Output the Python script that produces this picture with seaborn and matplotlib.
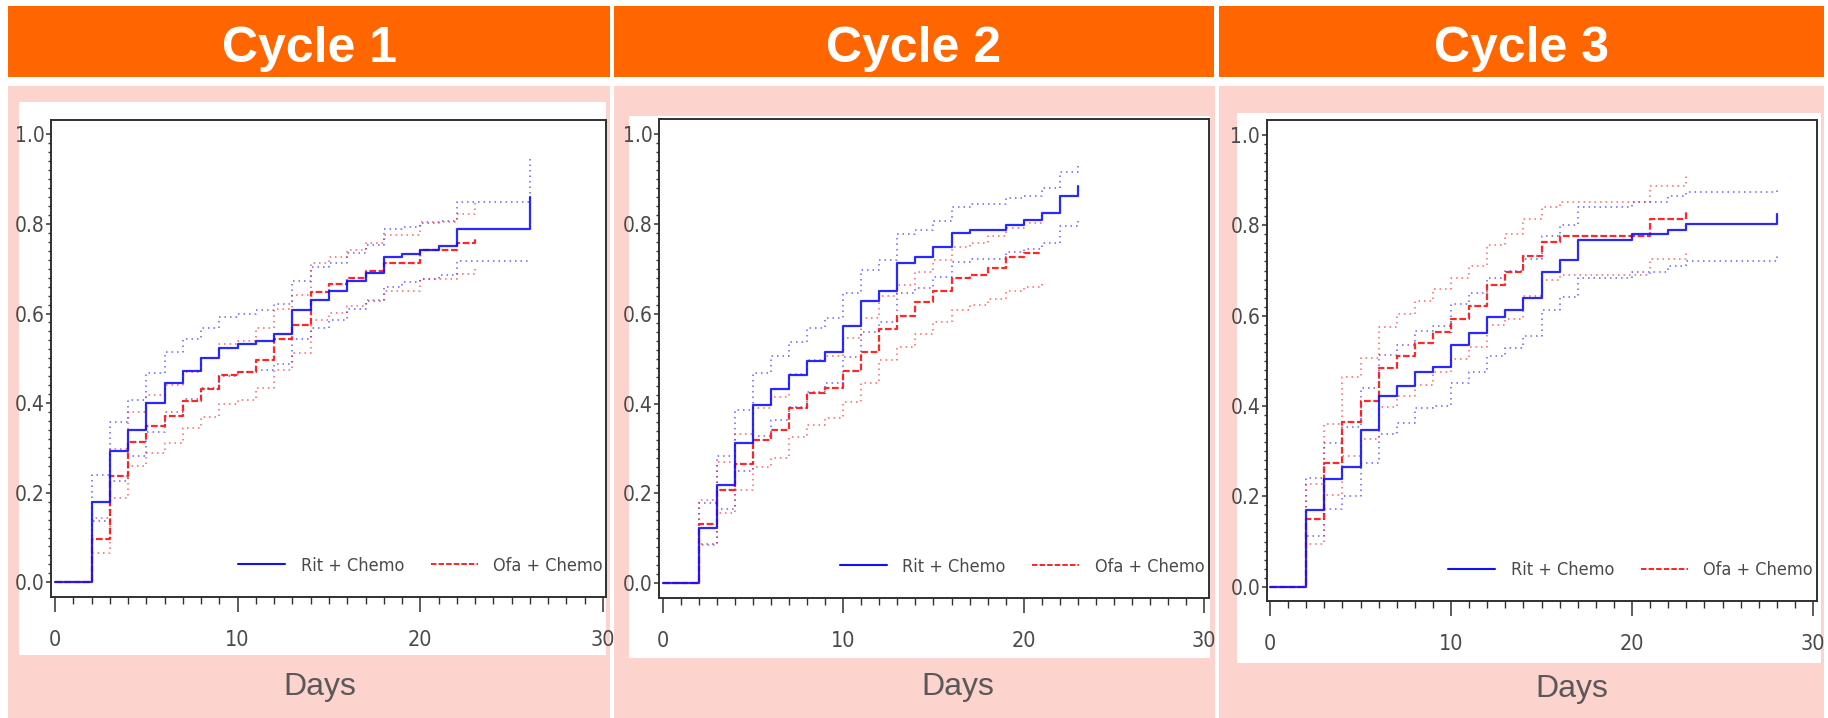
import numpy as np
import matplotlib
matplotlib.use("Agg")
import matplotlib.pyplot as plt
import seaborn as sns
from matplotlib.patches import Rectangle
from matplotlib.lines import Line2D
from matplotlib.ticker import FixedLocator, FormatStrFormatter
from matplotlib import font_manager as fm

# ---------------- data ----------------
cycle_titles = ["Cycle 1", "Cycle 2", "Cycle 3"]
series_labels = ["Rit + Chemo", "Ofa + Chemo"]
x_label = "Days"
x_ticks = [0, 10, 20, 30]
y_ticks = [0.0, 0.2, 0.4, 0.6, 0.8, 1.0]

# Cycle 1
c1_rit_days = [0, 2, 3, 4, 5, 6, 7, 8, 9, 10, 11, 12, 13, 14, 15, 16, 17, 18, 19, 20, 21, 22, 26]
c1_rit_est = [0, 0.179, 0.294, 0.340, 0.400, 0.445, 0.471, 0.500, 0.522, 0.533, 0.538, 0.555, 0.608,
              0.631, 0.650, 0.672, 0.691, 0.727, 0.733, 0.742, 0.751, 0.788, 0.860]
c1_rit_lo = [0, 0.137, 0.227, 0.282, 0.336, 0.381, 0.409, 0.434, 0.460, 0.470, 0.474, 0.488, 0.542,
             0.568, 0.585, 0.609, 0.629, 0.660, 0.670, 0.677, 0.686, 0.718, 0.718]
c1_rit_hi = [0, 0.240, 0.358, 0.407, 0.468, 0.513, 0.542, 0.568, 0.593, 0.600, 0.608, 0.622, 0.673,
             0.703, 0.712, 0.735, 0.753, 0.788, 0.793, 0.801, 0.806, 0.849, 0.944]
c1_ofa_days = [0, 2, 3, 4, 5, 6, 7, 8, 9, 10, 11, 12, 13, 14, 15, 16, 17, 18, 19, 20, 21, 22, 23]
c1_ofa_est = [0, 0.096, 0.237, 0.314, 0.350, 0.372, 0.404, 0.432, 0.463, 0.470, 0.497, 0.542, 0.574,
              0.647, 0.666, 0.680, 0.695, 0.713, 0.713, 0.742, 0.742, 0.757, 0.766]
c1_ofa_lo = [0, 0.065, 0.188, 0.260, 0.289, 0.312, 0.344, 0.368, 0.398, 0.407, 0.433, 0.474, 0.511,
             0.585, 0.602, 0.617, 0.630, 0.651, 0.651, 0.677, 0.677, 0.689, 0.700]
c1_ofa_hi = [0, 0.143, 0.297, 0.381, 0.418, 0.440, 0.470, 0.500, 0.531, 0.539, 0.568, 0.610, 0.642,
             0.712, 0.727, 0.742, 0.757, 0.775, 0.775, 0.805, 0.805, 0.821, 0.846]

# Cycle 2
c2_rit_days = [0, 2, 3, 4, 5, 6, 7, 8, 9, 10, 11, 12, 13, 14, 15, 16, 17, 18, 19, 20, 21, 22, 23]
c2_rit_est = [0, 0.124, 0.220, 0.312, 0.398, 0.433, 0.463, 0.494, 0.516, 0.572, 0.629, 0.651, 0.713,
              0.726, 0.748, 0.780, 0.786, 0.786, 0.798, 0.809, 0.824, 0.863, 0.884]
c2_rit_lo = [0, 0.087, 0.166, 0.251, 0.328, 0.363, 0.393, 0.427, 0.446, 0.505, 0.559, 0.582, 0.646,
             0.657, 0.683, 0.715, 0.722, 0.722, 0.737, 0.744, 0.759, 0.796, 0.813]
c2_rit_hi = [0, 0.179, 0.284, 0.385, 0.468, 0.507, 0.537, 0.568, 0.590, 0.646, 0.697, 0.719, 0.777,
             0.787, 0.808, 0.838, 0.844, 0.844, 0.858, 0.863, 0.880, 0.915, 0.930]
c2_ofa_days = [0, 2, 3, 4, 5, 6, 7, 8, 9, 10, 11, 12, 13, 14, 15, 16, 17, 18, 19, 20, 21]
c2_ofa_est = [0, 0.131, 0.207, 0.266, 0.319, 0.341, 0.391, 0.424, 0.434, 0.472, 0.516, 0.566, 0.596,
              0.626, 0.651, 0.680, 0.687, 0.703, 0.726, 0.735, 0.735]
c2_ofa_lo = [0, 0.085, 0.157, 0.208, 0.258, 0.280, 0.326, 0.352, 0.368, 0.403, 0.446, 0.498, 0.527,
             0.555, 0.582, 0.609, 0.620, 0.633, 0.651, 0.661, 0.674]
c2_ofa_hi = [0, 0.186, 0.271, 0.332, 0.391, 0.414, 0.466, 0.498, 0.507, 0.546, 0.590, 0.639, 0.665,
             0.693, 0.719, 0.748, 0.757, 0.774, 0.791, 0.803, 0.803]

# Cycle 3
c3_rit_days = [0, 2, 3, 4, 5, 6, 7, 8, 9, 10, 11, 12, 13, 14, 15, 16, 17, 18, 19, 20, 21, 22, 23, 28]
c3_rit_est = [0, 0.169, 0.239, 0.266, 0.347, 0.422, 0.445, 0.476, 0.487, 0.535, 0.561, 0.596, 0.613,
              0.639, 0.696, 0.724, 0.767, 0.767, 0.767, 0.780, 0.780, 0.790, 0.802, 0.826]
c3_rit_lo = [0, 0.113, 0.172, 0.201, 0.274, 0.339, 0.363, 0.396, 0.401, 0.452, 0.476, 0.510, 0.528,
             0.554, 0.613, 0.641, 0.683, 0.683, 0.683, 0.696, 0.696, 0.710, 0.722, 0.736]
c3_rit_hi = [0, 0.241, 0.318, 0.354, 0.439, 0.513, 0.536, 0.567, 0.578, 0.626, 0.650, 0.683, 0.698,
             0.726, 0.776, 0.801, 0.841, 0.841, 0.841, 0.852, 0.852, 0.864, 0.874, 0.884]
c3_ofa_days = [0, 2, 3, 4, 5, 6, 7, 8, 9, 10, 11, 12, 13, 14, 15, 16, 17, 18, 19, 20, 21, 22, 23]
c3_ofa_est = [0, 0.150, 0.274, 0.365, 0.411, 0.484, 0.510, 0.539, 0.564, 0.593, 0.622, 0.668, 0.696,
              0.732, 0.764, 0.776, 0.776, 0.776, 0.776, 0.776, 0.813, 0.813, 0.830]
c3_ofa_lo = [0, 0.095, 0.202, 0.290, 0.327, 0.398, 0.422, 0.447, 0.476, 0.504, 0.531, 0.579, 0.593,
             0.644, 0.680, 0.690, 0.690, 0.690, 0.690, 0.690, 0.726, 0.726, 0.744]
c3_ofa_hi = [0, 0.228, 0.361, 0.464, 0.507, 0.576, 0.604, 0.632, 0.658, 0.684, 0.710, 0.756, 0.780,
             0.813, 0.841, 0.851, 0.851, 0.851, 0.851, 0.851, 0.887, 0.887, 0.913]

cycles = [
    dict(rit=(c1_rit_days, c1_rit_est, c1_rit_lo, c1_rit_hi), ofa=(c1_ofa_days, c1_ofa_est, c1_ofa_lo, c1_ofa_hi)),
    dict(rit=(c2_rit_days, c2_rit_est, c2_rit_lo, c2_rit_hi), ofa=(c2_ofa_days, c2_ofa_est, c2_ofa_lo, c2_ofa_hi)),
    dict(rit=(c3_rit_days, c3_rit_est, c3_rit_lo, c3_rit_hi), ofa=(c3_ofa_days, c3_ofa_est, c3_ofa_lo, c3_ofa_hi)),
]

# ---------------- layout (pixels of the 1828x718 canvas) ----------------
FIG_W, FIG_H = 1828, 718
layout = [
    dict(head=(8, 610), pink=(8, 610), white=(19, 102, 606, 655), axes=(50.6, 120, 606, 597),
         x0=55.0, x30=603.0, y1=134.3, y0=582.3, days=(320, 695)),
    dict(head=(614, 1214), pink=(614, 1215), white=(629, 116, 1210, 658), axes=(658.6, 119, 1209, 598),
         x0=662.6, x30=1204.3, y1=134.3, y0=583.3, days=(958, 695)),
    dict(head=(1219, 1824), pink=(1219, 1824), white=(1237, 113, 1821, 663), axes=(1266.5, 120, 1817, 601),
         x0=1270.0, x30=1813.0, y1=135.0, y0=586.7, days=(1572, 696.5)),
]
HEAD_Y = (6, 77)
PINK_Y = (86, 718)

ORANGE = "#FF6600"
PINK = "#FDD3CD"
BLUE = "#1010FF"
RED = "#FF1010"
TICK_TXT = "#4a4a4a"
FRAME = "#303030"

sns.set_theme(style="white")

# narrow font for the SAS-like axis text
names = {f.name for f in fm.fontManager.ttflist}
narrow_stretch = "normal"
if "Liberation Sans Narrow" in names:
    narrow_family = "Liberation Sans Narrow"
elif any(f.name == "DejaVu Sans" and "condensed" in str(f.stretch) for f in fm.fontManager.ttflist):
    narrow_family = "DejaVu Sans"
    narrow_stretch = "condensed"
else:
    narrow_family = "Liberation Sans"
plt.rcParams["font.family"] = [narrow_family, "DejaVu Sans"]
plt.rcParams["font.stretch"] = narrow_stretch

fig = plt.figure(figsize=(FIG_W / 100, FIG_H / 100), dpi=100, facecolor="white")


def add_rect(x0, y0, x1, y1, color):
    r = Rectangle((x0 / FIG_W, 1 - y1 / FIG_H), (x1 - x0) / FIG_W, (y1 - y0) / FIG_H,
                  transform=fig.transFigure, facecolor=color, edgecolor="none", zorder=-5)
    fig.patches.append(r)
    return r


def draw(ax, days, vals, color, ls, lw, alpha, z):
    sns.lineplot(x=days, y=vals, ax=ax, color=color, linestyle=ls, linewidth=lw, alpha=alpha,
                 drawstyle="steps-post", estimator=None, sort=False, legend=False, zorder=z)


for i, (lay, cyc, title) in enumerate(zip(layout, cycles, cycle_titles)):
    hx0, hx1 = lay["head"]
    add_rect(hx0, HEAD_Y[0], hx1, HEAD_Y[1], ORANGE)
    add_rect(lay["pink"][0], PINK_Y[0], lay["pink"][1], PINK_Y[1], PINK)
    wx0, wy0, wx1, wy1 = lay["white"]
    add_rect(wx0, wy0, wx1, wy1, "white")
    fig.text((hx0 + hx1) / 2 / FIG_W, 1 - 62.5 / FIG_H, title, ha="center", va="baseline",
             color="white", fontsize=36, fontweight="bold", family=["Liberation Sans", "DejaVu Sans"])
    fig.text(lay["days"][0] / FIG_W, 1 - lay["days"][1] / FIG_H, x_label, ha="center", va="baseline",
             color="#595959", fontsize=23, family=["Liberation Sans", "DejaVu Sans"])

    l, t, r, b = lay["axes"]
    ax = fig.add_axes([l / FIG_W, 1 - b / FIG_H, (r - l) / FIG_W, (b - t) / FIG_H])
    ax.set_zorder(5)
    ax.set_facecolor("white")
    ppd = (lay["x30"] - lay["x0"]) / 30.0
    ppv = (lay["y0"] - lay["y1"])
    ax.set_xlim((l - lay["x0"]) / ppd, (r - lay["x0"]) / ppd)
    ax.set_ylim((lay["y0"] - b) / ppv, (lay["y0"] - t) / ppv)

    rd, re, rlo, rhi = cyc["rit"]
    od, oe, olo, ohi = cyc["ofa"]
    dot = (0, (1, 2.6))
    draw(ax, rd, rlo, BLUE, dot, 1.1, 0.65, 2)
    draw(ax, rd, rhi, BLUE, dot, 1.1, 0.65, 2)
    draw(ax, od, olo, RED, dot, 1.1, 0.65, 2)
    draw(ax, od, ohi, RED, dot, 1.1, 0.65, 2)
    draw(ax, od, oe, RED, (0, (3, 1.2)), 1.6, 0.9, 3)
    draw(ax, rd, re, BLUE, "-", 1.6, 0.9, 4)

    ax.set_xlabel("")
    ax.set_ylabel("")
    ax.xaxis.set_major_locator(FixedLocator(x_ticks))
    ax.xaxis.set_minor_locator(FixedLocator(np.arange(0, 31, 1)))
    ax.yaxis.set_major_locator(FixedLocator(y_ticks))
    ax.yaxis.set_minor_locator(FixedLocator(np.round(np.arange(0, 1.001, 0.02), 2)))
    ax.yaxis.set_major_formatter(FormatStrFormatter("%.1f"))
    ax.tick_params(axis="x", which="major", direction="out", length=11, width=1.1, color=FRAME,
                   labelcolor=TICK_TXT, labelsize=15.5, pad=12.5, bottom=True)
    ax.tick_params(axis="x", which="minor", direction="out", length=5, width=1.0, color=FRAME, bottom=True)
    ax.tick_params(axis="y", which="major", direction="out", length=3.5, width=1.1, color=FRAME,
                   labelcolor=TICK_TXT, labelsize=15, pad=1, left=True)
    ax.tick_params(axis="y", which="minor", direction="out", length=2.2, width=1.0, color=FRAME, left=True)
    for sp in ax.spines.values():
        sp.set_visible(True)
        sp.set_color(FRAME)
        sp.set_linewidth(1.4)

    handles = [Line2D([0], [0], color=BLUE, lw=1.5),
               Line2D([0], [0], color=RED, lw=1.3, linestyle=(0, (3, 1.2)))]
    ax.legend(handles, series_labels, loc="center right", bbox_to_anchor=(30.0, 0.037),
              bbox_transform=ax.transData, ncol=2, frameon=False, fontsize=13, labelcolor=TICK_TXT,
              handlelength=2.6, handletextpad=0.85, columnspacing=1.5, borderpad=0, borderaxespad=0)

fig.savefig("out.png", dpi=100, facecolor="white")
